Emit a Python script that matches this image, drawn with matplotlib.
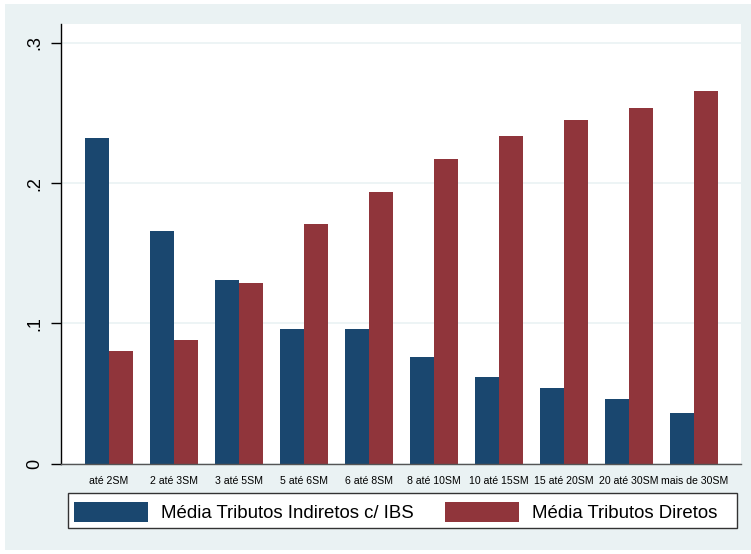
import numpy as np
import matplotlib
matplotlib.use("Agg")
import matplotlib.pyplot as plt
from matplotlib.patches import Rectangle, Patch

plt.rcParams['font.family'] = ['Liberation Sans', 'DejaVu Sans']

categories = ["até 2SM", "2 até 3SM", "3 até 5SM", "5 até 6SM", "6 até 8SM",
              "8 até 10SM", "10 até 15SM", "15 até 20SM", "20 até 30SM", "mais de 30SM"]
indiretos = [0.232, 0.166, 0.131, 0.096, 0.096, 0.076, 0.062, 0.054, 0.046, 0.036]
diretos = [0.080, 0.088, 0.129, 0.171, 0.194, 0.217, 0.234, 0.245, 0.254, 0.266]
labels = ["Média Tributos Indiretos c/ IBS", "Média Tributos Diretos"]

blue = "#1a476f"
red = "#90353b"
bg = "#eaf2f3"

W, H = 751, 554
fig = plt.figure(figsize=(W / 100, H / 100), dpi=100, facecolor="white")
fig.patches.append(Rectangle((5 / W, 4 / H), 746 / W, 546 / H, transform=fig.transFigure,
                             facecolor=bg, edgecolor="none", zorder=-10))

ax = fig.add_axes([61 / W, 1 - 463.5 / H, 680 / W, 439.5 / H])
ax.set_facecolor("white")

x = np.arange(len(categories))
bw = 24 / 65
ax.bar(x - bw / 2, indiretos, width=bw, color=blue, zorder=2)
ax.bar(x + bw / 2, diretos, width=bw, color=red, zorder=2)

ax.set_xlim(-0.738, 9.72)
ax.set_ylim(0, 0.3136)
ax.set_yticks([0, 0.1, 0.2, 0.3])
ax.set_yticklabels(["0", ".1", ".2", ".3"], rotation=90, va="center", fontsize=13)
ax.tick_params(axis="y", length=7, width=1, pad=6, direction="out")
ax.set_xticks(x)
ax.set_xticklabels(categories, fontsize=7.6)
ax.tick_params(axis="x", length=0, pad=9)
ax.grid(axis="y", color=bg, linewidth=1.2, zorder=1)
for s in ["top", "right"]:
    ax.spines[s].set_visible(False)
ax.spines["left"].set_linewidth(1)
ax.spines["bottom"].set_color("#555555")
ax.spines["bottom"].set_linewidth(1)

# legend box (Stata leaves extra room on the right)
fig.patches.append(Rectangle((68 / W, 1 - 528 / H), 669 / W, 35 / H, transform=fig.transFigure,
                             facecolor="white", edgecolor="#333333", linewidth=1, zorder=-5))
handles = [Patch(facecolor=blue, edgecolor="none"), Patch(facecolor=red, edgecolor="none")]
leg = fig.legend(handles, labels, ncol=2, loc="lower left",
                 bbox_to_anchor=(68 / W, 1 - 528 / H, 655 / W, 35 / H), mode="expand",
                 fontsize=13.4, handlelength=4.0, handleheight=1.3, frameon=False,
                 borderaxespad=0, borderpad=0.3, handletextpad=0.7, columnspacing=2.0)

fig.savefig("out.png", dpi=100, facecolor="white")
